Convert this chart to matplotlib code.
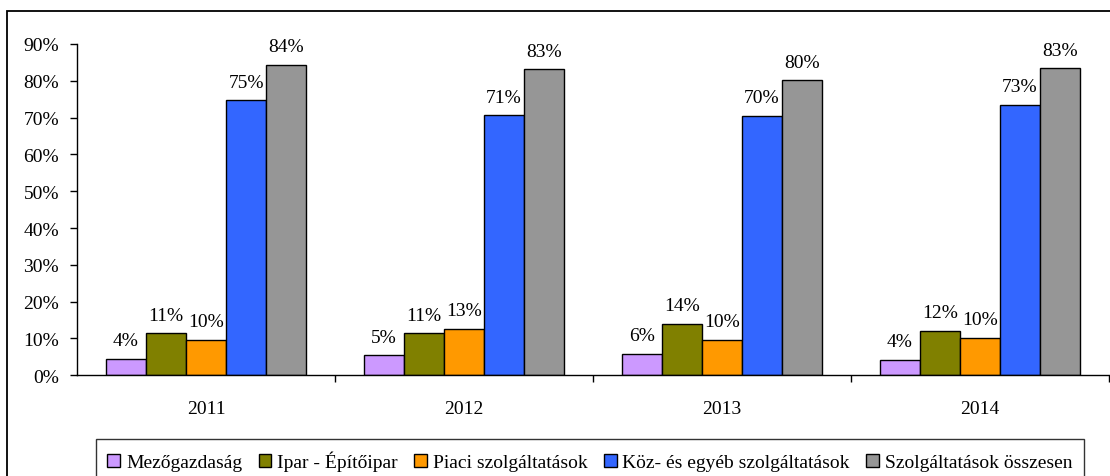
import numpy as np
import matplotlib
matplotlib.use("Agg")
import matplotlib.pyplot as plt
from matplotlib.patches import Rectangle

plt.rcParams['font.family'] = ['Liberation Serif', 'DejaVu Serif']

years = ['2011', '2012', '2013', '2014']
series = ['Mezőgazdaság', 'Ipar - Építőipar', 'Piaci szolgáltatások',
          'Köz- és egyéb szolgáltatások', 'Szolgáltatások összesen']
mezogazdasag = [4.4, 5.4, 5.8, 4.2]
ipar = [11.4, 11.4, 13.9, 12.1]
piaci = [9.7, 12.6, 9.7, 10.1]
koz = [74.7, 70.6, 70.4, 73.4]
osszesen = [84.4, 83.1, 80.1, 83.4]
colors = ['#CC99FF', '#808000', '#FF9900', '#3366FF', '#969696']

values = [mezogazdasag, ipar, piaci, koz, osszesen]
fs = 14

fig = plt.figure(figsize=(11.1, 4.77), dpi=100)
ax = fig.add_axes([0.0694, 0.2111, 0.9297, 0.6946])

x = np.arange(len(years))
w = 0.155
for i, (name, vals, c) in enumerate(zip(series, values, colors)):
    pos = x + (i - 2) * w
    bars = ax.bar(pos, vals, w, color=c, edgecolor='black', linewidth=1, label=name)
    for b, v in zip(bars, vals):
        ax.annotate(f"{v:.0f}%", (b.get_x() + b.get_width() / 2, v),
                    xytext=(0, 7), textcoords='offset points',
                    ha='center', va='bottom', fontsize=fs)

ax.set_xlim(-0.5, 3.5)
ax.set_ylim(0, 90)
ax.set_yticks(np.arange(0, 91, 10))
ax.set_yticklabels([f"{t}%" for t in range(0, 91, 10)], fontsize=fs)
ax.set_xticks(x)
ax.set_xticklabels(years, fontsize=fs)
ax.set_xticks(np.arange(0.5, 4, 1), minor=True)
ax.tick_params(axis='x', which='major', length=0, pad=18)
ax.tick_params(axis='x', which='minor', length=5, direction='out', width=1)
ax.tick_params(axis='y', length=5, direction='out', width=1, pad=8)
for s in ['top', 'right']:
    ax.spines[s].set_visible(False)
for s in ['left', 'bottom']:
    ax.spines[s].set_linewidth(1)
    ax.spines[s].set_color('black')

leg = fig.legend(loc='upper center', bbox_to_anchor=(0.5315, 0.077), ncol=5,
                 fontsize=fs, frameon=True, fancybox=False, edgecolor='black',
                 handlelength=0.65, handleheight=0.65, handletextpad=0.3,
                 columnspacing=0.85, borderpad=0.6, borderaxespad=0)
leg.get_frame().set_linewidth(1)

# outer chart border
fig.add_artist(Rectangle((7 / 1110, -0.05), 1.0, 1 - 12 / 477 + 0.05,
                         transform=fig.transFigure, fill=False,
                         edgecolor='black', linewidth=1.3))

fig.savefig('out.png', dpi=100)
